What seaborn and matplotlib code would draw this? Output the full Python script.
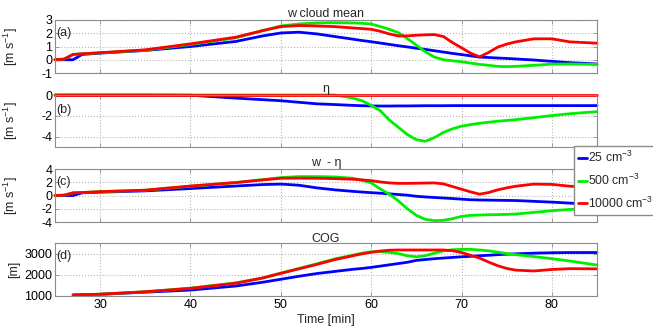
import numpy as np
import pandas as pd
import matplotlib
matplotlib.use("Agg")
import matplotlib.pyplot as plt
from matplotlib.lines import Line2D
import seaborn as sns

sns.set_theme(style="white")
plt.rcParams["font.family"] = ["Liberation Sans", "DejaVu Sans"]
plt.rcParams["mathtext.fontset"] = "custom"
plt.rcParams["mathtext.rm"] = "Liberation Sans"
plt.rcParams["mathtext.it"] = "Liberation Sans:italic"
plt.rcParams["axes.unicode_minus"] = False

# ---------------- data ----------------
time_min = [25, 26, 27, 28, 30, 35, 40, 45, 48, 50,
            52, 54, 56, 58, 59, 60, 61, 62, 63, 64,
            65, 66, 67, 68, 69, 70, 71, 72, 73, 74,
            75, 76, 78, 80, 82, 85]

series_names = ["25 cm$^{-3}$", "500 cm$^{-3}$", "10000 cm$^{-3}$"]
series_colors = ["#0000ff", "#00ee00", "#ff0000"]

w_cloud_25 = [0, 0, 0, 0.4, 0.5, 0.7, 1.0, 1.38, 1.8, 2.02,
              2.08, 1.95, 1.75, 1.55, 1.45, 1.36, 1.26, 1.16, 1.06, 0.97,
              0.87, 0.78, 0.68, 0.58, 0.48, 0.39, 0.3, 0.2, 0.17, 0.13,
              0.1, 0.06, -0.02, -0.12, -0.22, -0.32]
w_cloud_500 = [0, 0.05, 0.4, 0.45, 0.52, 0.72, 1.15, 1.65, 2.2, 2.55,
               2.7, 2.78, 2.8, 2.78, 2.75, 2.7, 2.5, 2.3, 2.05, 1.6,
               1.1, 0.6, 0.2, 0.0, -0.08, -0.15, -0.25, -0.35, -0.42, -0.5,
               -0.52, -0.5, -0.42, -0.33, -0.32, -0.35]
w_cloud_10000 = [0, 0.05, 0.4, 0.45, 0.53, 0.75, 1.2, 1.7, 2.2, 2.5,
                 2.58, 2.55, 2.5, 2.4, 2.35, 2.3, 2.15, 1.95, 1.8, 1.8,
                 1.85, 1.88, 1.9, 1.75, 1.3, 0.9, 0.5, 0.22, 0.55, 0.95,
                 1.18, 1.35, 1.58, 1.58, 1.35, 1.25]

eta_25 = [0, 0, 0, 0, 0, 0, -0.02, -0.3, -0.45, -0.55,
          -0.7, -0.85, -0.92, -1.0, -1.03, -1.05, -1.06, -1.06, -1.05, -1.05,
          -1.04, -1.03, -1.03, -1.03, -1.02, -1.02, -1.02, -1.02, -1.02, -1.02,
          -1.02, -1.02, -1.02, -1.02, -1.02, -1.02]
eta_500 = [0, 0, 0, 0, 0, 0, 0, 0, 0, 0,
           0, 0, 0, -0.3, -0.55, -1.0, -1.5, -2.4, -3.1, -3.8,
           -4.3, -4.45, -4.1, -3.6, -3.25, -3.0, -2.85, -2.72, -2.62, -2.52,
           -2.45, -2.37, -2.18, -1.98, -1.8, -1.6]
eta_10000 = [0] * 36

wme_25 = [0, 0, 0, 0.4, 0.5, 0.7, 1.05, 1.43, 1.65, 1.72,
          1.55, 1.15, 0.85, 0.62, 0.52, 0.43, 0.35, 0.25, 0.15, 0.05,
          -0.12, -0.22, -0.3, -0.38, -0.46, -0.55, -0.64, -0.68, -0.7, -0.72,
          -0.74, -0.76, -0.88, -1.0, -1.15, -1.4]
wme_500 = [0, 0.05, 0.4, 0.45, 0.58, 0.8, 1.4, 1.95, 2.4, 2.7,
           2.85, 2.85, 2.8, 2.6, 2.3, 1.9, 1.0, 0.2, -0.8, -2.0,
           -3.0, -3.6, -3.8, -3.75, -3.5, -3.15, -3.0, -2.95, -2.9, -2.88,
           -2.85, -2.8, -2.55, -2.3, -2.1, -1.95]
wme_10000 = [0, 0.05, 0.4, 0.45, 0.58, 0.8, 1.43, 1.95, 2.35, 2.6,
             2.62, 2.6, 2.55, 2.45, 2.35, 2.24, 2.05, 1.9, 1.83, 1.83,
             1.85, 1.88, 1.9, 1.75, 1.35, 0.95, 0.55, 0.2, 0.45, 0.85,
             1.15, 1.4, 1.72, 1.68, 1.4, 1.2]

nan = np.nan
cog_25 = [nan, nan, 1050, 1060, 1080, 1180, 1280, 1470, 1650, 1790,
          1930, 2060, 2160, 2260, 2300, 2350, 2410, 2470, 2530, 2590,
          2680, 2720, 2760, 2790, 2820, 2850, 2870, 2900, 2920, 2950,
          2970, 2990, 3020, 3040, 3050, 3050]
cog_500 = [nan, nan, 1050, 1060, 1085, 1200, 1370, 1620, 1850, 2080,
           2300, 2520, 2750, 2930, 3020, 3090, 3090, 3060, 3000, 2900,
           2850, 2900, 3020, 3130, 3180, 3200, 3200, 3170, 3130, 3070,
           3000, 2950, 2860, 2760, 2650, 2460]
cog_10000 = [nan, nan, 1050, 1060, 1085, 1200, 1360, 1600, 1850, 2070,
             2280, 2490, 2720, 2900, 2990, 3060, 3120, 3160, 3170, 3170,
             3170, 3170, 3170, 3170, 3140, 3050, 2920, 2790, 2600, 2430,
             2300, 2220, 2180, 2250, 2290, 2280]

panel_titles = ["w cloud mean", "\u03b7", "w  - \u03b7", "COG"]
panel_tags = ["(a)", "(b)", "(c)", "(d)"]
panel_ylabels = ["[m s$^{-1}$]", "[m s$^{-1}$]", "[m s$^{-1}$]", "[m]"]
panel_ylims = [(-1, 3), (-5, 0), (-4, 4), (1000, 3500)]
panel_yticks = [[-1, 0, 1, 2, 3], [-4, -2, 0], [-4, -2, 0, 2, 4], [1000, 2000, 3000]]
panel_data = [
    [w_cloud_25, w_cloud_500, w_cloud_10000],
    [eta_25, eta_500, eta_10000],
    [wme_25, wme_500, wme_10000],
    [cog_25, cog_500, cog_10000],
]
x_ticks = [30, 40, 50, 60, 70, 80]

# ---------------- layout ----------------
W, H = 653, 329
fig = plt.figure(figsize=(W / 100, H / 100), dpi=100)
left, right = 55, 597
panel_px = [(20, 73), (95, 147), (169, 222), (243, 296)]

palette = dict(zip(series_names, series_colors))
axes = []
for i, (top, bot) in enumerate(panel_px):
    ax = fig.add_axes([left / W, 1 - bot / H, (right - left) / W, (bot - top) / H])
    axes.append(ax)
    rows = []
    for name, vals in zip(series_names, panel_data[i]):
        for t, v in zip(time_min, vals):
            rows.append({"time": t, "value": v, "series": name})
    df = pd.DataFrame(rows).dropna()
    sns.lineplot(data=df, x="time", y="value", hue="series", hue_order=series_names,
                 palette=palette, linewidth=2, ax=ax, legend=False, errorbar=None)
    for ln in ax.lines:
        ln.set_clip_on(False)
    ax.set_xlim(25, 85)
    ax.set_ylim(*panel_ylims[i])
    ax.set_xticks(x_ticks)
    ax.set_yticks(panel_yticks[i])
    ax.grid(True, linestyle=":", color="#b8b8b8", linewidth=0.8)
    for s in ax.spines.values():
        s.set_color("#8c8c8c")
        s.set_linewidth(0.8)
    ax.tick_params(direction="in", length=3, width=0.6, color="#8c8c8c",
                   top=True, right=True, bottom=True, left=True,
                   labelsize=9, pad=2, labelcolor="black")
    ax.set_xlabel("")
    ax.set_ylabel(panel_ylabels[i], fontsize=9)
    ax.yaxis.set_label_coords(-0.065, 0.5)
    ax.set_title(panel_titles[i], fontsize=9, pad=1)
    frac = 0.71 if i == 1 else 0.75
    ax.text(0.002, frac, panel_tags[i], transform=ax.transAxes, fontsize=9,
            va="center", ha="left")
    if i < 3:
        ax.tick_params(labelbottom=False)

axes[-1].set_xlabel("Time [min]", fontsize=9, labelpad=2)

handles = [Line2D([0], [0], color=c, lw=2) for c in series_colors]
fig.legend(handles, series_names, loc="upper left",
           bbox_to_anchor=(574 / W, 1 - 146 / H), fontsize=8.8,
           handlelength=0.7, handletextpad=0.1, borderpad=0.35,
           labelspacing=0.6, frameon=True, fancybox=False,
           edgecolor="#8c8c8c", framealpha=1, borderaxespad=0)

fig.savefig("out.png", dpi=100)
